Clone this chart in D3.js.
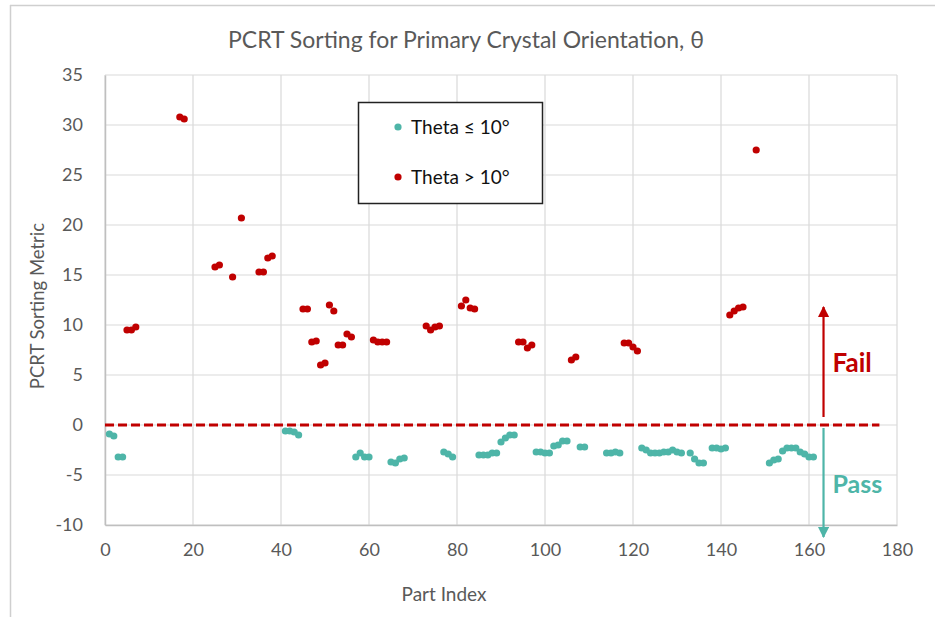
<!DOCTYPE html>
<html><head><meta charset="utf-8">
<script src="https://cdn.jsdelivr.net/npm/d3@7"></script>
<style>body{margin:0;background:#fff}svg{display:block}text{font-family:Lato,"Open Sans",sans-serif}</style>
</head><body><svg id="c" width="935" height="617"></svg>
<script>
const title = "PCRT Sorting for Primary Crystal Orientation, θ";
const xLabel = "Part Index";
const yLabel = "PCRT Sorting Metric";
const xTicks = [0,20,40,60,80,100,120,140,160,180];
const yTicks = [-10,-5,0,5,10,15,20,25,30,35];
const seriesNames = ["Theta ≤ 10°", "Theta > 10°"];

const failIdx = [5,6,7,17,18,25,26,29,31,35,36,37,38,45,46,47,48,49,50,51,52,53,54,55,56,61,62,63,64,73,74,75,76,81,82,83,84,94,95,96,97,106,107,118,119,120,121,142,143,144,145,148];
const failVal = [9.5,9.5,9.8,30.8,30.6,15.8,16.0,14.8,20.7,15.3,15.3,16.7,16.9,11.6,11.6,8.3,8.4,6.0,6.2,12.0,11.4,8.0,8.0,9.1,8.8,8.5,8.3,8.3,8.3,9.9,9.5,9.8,9.9,11.9,12.5,11.7,11.6,8.3,8.3,7.7,8.0,6.5,6.8,8.2,8.2,7.8,7.4,11.0,11.4,11.7,11.8,27.5];

const passIdx = [1,2,3,4,41,42,43,44,57,58,59,60,65,66,67,68,77,78,79,85,86,87,88,89,90,91,92,93,98,99,100,101,102,103,104,105,108,109,114,115,116,117,122,123,124,125,126,127,128,129,130,131,133,134,135,136,138,139,140,141,151,152,153,154,155,156,157,158,159,160,161];
const passVal = [-0.9,-1.1,-3.2,-3.2,-0.6,-0.6,-0.7,-1.0,-3.2,-2.8,-3.2,-3.2,-3.7,-3.8,-3.4,-3.3,-2.7,-2.9,-3.2,-3.0,-3.0,-3.0,-2.8,-2.8,-1.7,-1.3,-1.0,-1.0,-2.7,-2.7,-2.8,-2.8,-2.1,-2.0,-1.6,-1.6,-2.2,-2.2,-2.8,-2.8,-2.7,-2.8,-2.3,-2.5,-2.8,-2.8,-2.8,-2.7,-2.7,-2.5,-2.7,-2.8,-2.8,-3.4,-3.8,-3.8,-2.3,-2.3,-2.4,-2.3,-3.8,-3.5,-3.4,-2.6,-2.3,-2.3,-2.3,-2.7,-2.9,-3.2,-3.2];

const thresholdLine = {x0: 0, x1: 176, y: 0};
const arrowX = 163.3;
const failArrow = [0.8, 11.8];
const passArrow = [-0.3, -11.2];
const failLabel = {text: "Fail", x: 169.8, y: 5.3};
const passLabel = {text: "Pass", x: 171.0, y: -6.8};

const RED = "#C00000", TEAL = "#4EB5A8", GRAY = "#595959", GRID = "#D9D9D9";

const svg = d3.select("#c");
const x = d3.scaleLinear().domain([0,180]).range([105,897]);
const y = d3.scaleLinear().domain([-10,35]).range([525,75]);

// outer frame
svg.append("line").attr("x1",10).attr("x2",935).attr("y1",5.5).attr("y2",5.5).attr("stroke","#cfcfcf").attr("stroke-width",1.5);
svg.append("line").attr("x1",10.5).attr("x2",10.5).attr("y1",5).attr("y2",617).attr("stroke","#cfcfcf").attr("stroke-width",1.5);

const defs = svg.append("defs");
function marker(id,color){
  defs.append("marker").attr("id",id).attr("viewBox","0 0 10 10").attr("refX",9).attr("refY",5)
    .attr("markerWidth",5).attr("markerHeight",5).attr("orient","auto")
    .append("path").attr("d","M0,0L10,5L0,10Z").attr("fill",color);
}
marker("ar",RED); marker("at",TEAL);

// grid
svg.append("g").selectAll("line").data(xTicks).join("line")
  .attr("x1",d=>x(d)).attr("x2",d=>x(d)).attr("y1",y(-10)).attr("y2",y(35))
  .attr("stroke",GRID).attr("stroke-width",1.2);
svg.append("g").selectAll("line").data(yTicks).join("line")
  .attr("x1",x(0)).attr("x2",x(180)).attr("y1",d=>y(d)).attr("y2",d=>y(d))
  .attr("stroke",GRID).attr("stroke-width",1.2);

// axes
const fmt = d => String(d);
const xAxis = svg.append("g").attr("transform",`translate(0,${y(-10)})`)
  .call(d3.axisBottom(x).tickValues(xTicks).tickSize(0).tickPadding(18).tickFormat(fmt));
xAxis.select(".domain").attr("stroke","#BFBFBF").attr("stroke-width",1.5);
xAxis.selectAll("text").attr("fill",GRAY).attr("font-size",18).style("font-family","Lato");
const yAxis = svg.append("g").attr("transform",`translate(${x(0)},0)`)
  .call(d3.axisLeft(y).tickValues(yTicks).tickSize(0).tickPadding(22).tickFormat(fmt));
yAxis.select(".domain").attr("stroke","#BFBFBF").attr("stroke-width",1.5);
yAxis.selectAll("text").attr("fill",GRAY).attr("font-size",18).style("font-family","Lato");

// threshold
svg.append("line").attr("x1",x(thresholdLine.x0)).attr("x2",x(thresholdLine.x1))
  .attr("y1",y(thresholdLine.y)).attr("y2",y(thresholdLine.y))
  .attr("stroke",RED).attr("stroke-width",3).attr("stroke-dasharray","9,4");

// points
const passData = passIdx.map((d,i)=>({x:d,y:passVal[i]}));
const failData = failIdx.map((d,i)=>({x:d,y:failVal[i]}));
svg.append("g").selectAll("circle").data(passData).join("circle")
  .attr("cx",d=>x(d.x)).attr("cy",d=>y(d.y)).attr("r",3.6).attr("fill",TEAL);
svg.append("g").selectAll("circle").data(failData).join("circle")
  .attr("cx",d=>x(d.x)).attr("cy",d=>y(d.y)).attr("r",3.6).attr("fill",RED);

// arrows
svg.append("line").attr("x1",x(arrowX)).attr("x2",x(arrowX)).attr("y1",y(failArrow[0])).attr("y2",y(failArrow[1]))
  .attr("stroke",RED).attr("stroke-width",2.2).attr("marker-end","url(#ar)");
svg.append("line").attr("x1",x(arrowX)).attr("x2",x(arrowX)).attr("y1",y(passArrow[0])).attr("y2",y(passArrow[1]))
  .attr("stroke",TEAL).attr("stroke-width",2.2).attr("marker-end","url(#at)");
svg.append("text").attr("x",x(failLabel.x)).attr("y",y(failLabel.y)).attr("text-anchor","middle")
  .attr("font-size",26).attr("font-weight","bold").attr("fill",RED).text(failLabel.text);
svg.append("text").attr("x",x(passLabel.x)).attr("y",y(passLabel.y)).attr("text-anchor","middle")
  .attr("font-size",25).attr("font-weight","bold").attr("fill",TEAL).text(passLabel.text);

// titles
svg.append("text").attr("x",466).attr("y",48).attr("text-anchor","middle").attr("font-size",23).attr("fill",GRAY).text(title);
svg.append("text").attr("x",444).attr("y",601).attr("text-anchor","middle").attr("font-size",19).attr("fill",GRAY).text(xLabel);
svg.append("text").attr("transform","translate(44,306) rotate(-90)").attr("text-anchor","middle").attr("font-size",18.5).attr("fill",GRAY).text(yLabel);

// legend
const lg = svg.append("g");
lg.append("rect").attr("x",358.5).attr("y",102.5).attr("width",184).attr("height",101).attr("fill","#fff").attr("stroke","#222").attr("stroke-width",1.5);
[[TEAL,127],[RED,177]].forEach((c,i)=>{
  lg.append("circle").attr("cx",398).attr("cy",c[1]).attr("r",3.6).attr("fill",c[0]);
  lg.append("text").attr("x",411).attr("y",c[1]+7).attr("font-size",19).attr("fill","#111").text(seriesNames[i]);
});
</script></body></html>
